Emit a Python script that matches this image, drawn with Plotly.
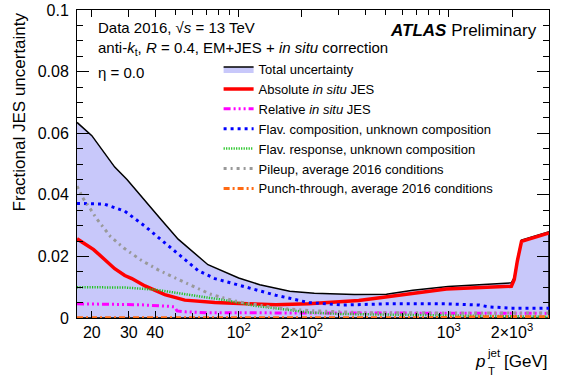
import plotly.graph_objects as go

FONT = "Liberation Sans, Arial, Helvetica, sans-serif"

# ---- data ----
pt_total = [17, 20, 25.7, 29.4, 42.1, 51.5, 71.4, 84.5, 100, 126, 160, 175, 229, 355, 505, 674, 994, 1431, 1986, 2050, 2120, 2220, 3000]
total_unc = [0.0635, 0.0592, 0.0490, 0.0450, 0.0325, 0.0256, 0.0173, 0.0152, 0.0130, 0.0108, 0.0092, 0.0087, 0.0080, 0.0076, 0.0077, 0.0090, 0.0102, 0.0108, 0.0114, 0.0132, 0.0190, 0.0253, 0.0280]

pt_abs = [17, 20.4, 23, 25.7, 28.7, 31, 35.8, 44.5, 55.4, 77, 101, 150, 215, 373, 500, 975, 1986, 2050, 2120, 2220, 3000]
abs_insitu = [0.0257, 0.0222, 0.0190, 0.0160, 0.0138, 0.0128, 0.0104, 0.0076, 0.0058, 0.0050, 0.0047, 0.0043, 0.0046, 0.0057, 0.0068, 0.0094, 0.0103, 0.0125, 0.0185, 0.0249, 0.0276]

pt_rel = [17, 34, 46.3, 49.5, 50.9, 56, 70, 3000]
rel_insitu = [0.0046, 0.0043, 0.0038, 0.0036, 0.0023, 0.0020, 0.0017, 0.0015]

pt_flav = [17, 22.9, 28.7, 35.8, 44.5, 55.4, 64.4, 77, 101, 150, 175, 215, 313, 505, 975, 1400, 1555, 2000, 3000]
flav_comp = [0.0372, 0.0370, 0.0347, 0.0298, 0.0244, 0.0189, 0.0153, 0.0128, 0.0105, 0.0074, 0.0064, 0.0050, 0.0042, 0.0046, 0.0046, 0.0042, 0.0036, 0.0032, 0.0032]

pt_resp = [17, 28.7, 40, 50, 58.6, 70, 84.5, 101, 121, 175, 215, 313, 600, 1000, 3000]
flav_resp = [0.0100, 0.0099, 0.0092, 0.0083, 0.0075, 0.0067, 0.0059, 0.0049, 0.0039, 0.0026, 0.0018, 0.0013, 0.0010, 0.0007, 0.0004]

pt_pu = [17, 18.2, 19.6, 21, 24.5, 28.4, 34.1, 41.2, 49.8, 59.9, 73, 88, 101, 150, 215, 400, 3000]
pileup = [0.0428, 0.0388, 0.0356, 0.0324, 0.0265, 0.0227, 0.0189, 0.0157, 0.0130, 0.0106, 0.0078, 0.0062, 0.0052, 0.0033, 0.0024, 0.0017, 0.0016]

pt_pt = [17, 800, 1500, 3000]
punch = [0.0001, 0.0001, 0.0004, 0.0004]

x_tickvals = [20, 30, 40, 100, 200, 1000, 2000]
x_ticktext = ["20", "30", "40", "10<sup>2</sup>", "2×10<sup>2</sup>", "10<sup>3</sup>", "2×10<sup>3</sup>"]
x_minor = [50, 60, 70, 80, 90, 300, 400, 500, 600, 700, 800, 900, 3000]
y_tickvals = [0, 0.02, 0.04, 0.06, 0.08, 0.1]
y_ticktext = ["0", "0.02", "0.04", "0.06", "0.08", "0.1"]

# closed band for the total uncertainty (curve, then back along zero)
band_x = pt_total + pt_total[::-1]
band_y = total_unc + [0.0] * len(pt_total)

fig = go.Figure()
fig.add_trace(go.Scatter(x=band_x, y=band_y, name="Total uncertainty", mode="lines",
                         fill="toself", fillcolor="rgb(200,200,250)",
                         line=dict(color="black", width=1.5)))
fig.add_trace(go.Scatter(x=pt_abs, y=abs_insitu, name="Absolute <i>in situ</i> JES", mode="lines",
                         line=dict(color="#ff0000", width=3.5)))
fig.add_trace(go.Scatter(x=pt_rel, y=rel_insitu, name="Relative <i>in situ</i> JES", mode="lines",
                         line=dict(color="#ff00ff", width=3, dash="7px,3px,2px,3px,2px,3px,2px,3px")))
fig.add_trace(go.Scatter(x=pt_flav, y=flav_comp, name="Flav. composition, unknown composition", mode="lines",
                         line=dict(color="#0000ff", width=3, dash="3px,4px")))
fig.add_trace(go.Scatter(x=pt_resp, y=flav_resp, name="Flav. response, unknown composition", mode="lines",
                         line=dict(color="#22c422", width=2.5, dash="1.2px,1.3px")))
fig.add_trace(go.Scatter(x=pt_pu, y=pileup, name="Pileup, average 2016 conditions", mode="lines",
                         line=dict(color="#999999", width=3, dash="3px,4px,2px,4px")))
fig.add_trace(go.Scatter(x=pt_pt, y=punch, name="Punch-through, average 2016 conditions", mode="lines",
                         line=dict(color="#ff6a13", width=3, dash="6px,3px,2px,3px")))

axis_common = dict(showline=True, linecolor="black", linewidth=1, mirror="allticks",
                   ticks="inside", tickcolor="black", showgrid=False, zeroline=False,
                   automargin=False,
                   tickfont=dict(family=FONT, size=16, color="black"))

fig.update_xaxes(type="log", range=[1.2304, 3.4771], tickmode="array",
                 tickvals=x_tickvals, ticktext=x_ticktext, ticklen=7,
                 minor=dict(tickmode="array", tickvals=x_minor, ticks="inside", ticklen=5, tickcolor="black"),
                 **axis_common)
fig.update_yaxes(range=[0, 0.1], tickmode="array", tickvals=y_tickvals, ticktext=y_ticktext,
                 ticklen=12, ticklabelstandoff=4,
                 minor=dict(dtick=0.005, ticks="inside", ticklen=6, tickcolor="black"),
                 **axis_common)

ann = []
ann.append(dict(text="Data 2016, √<i>s</i> = 13 TeV", x=0.040, y=1, yshift=-17,
                xanchor="left", yanchor="middle", font=dict(size=15)))
ann.append(dict(text="anti-<i>k</i><sub>t</sub>, <i>R</i> = 0.4, EM+JES + <i>in situ</i> correction",
                x=0.040, y=1, yshift=-38, xanchor="left", yanchor="middle", font=dict(size=15)))
ann.append(dict(text="η = 0.0", x=0.040, y=1, yshift=-62, xanchor="left", yanchor="middle",
                font=dict(size=15)))
ann.append(dict(text="<b><i>ATLAS</i></b> Preliminary", x=1, y=1, xshift=-10, yshift=-20,
                xanchor="right", yanchor="middle", font=dict(size=17)))
ann.append(dict(text="Fractional JES uncertainty", textangle=-90, x=-0.121, y=1,
                xanchor="center", yanchor="top", font=dict(size=17)))
ann.append(dict(text="[GeV]", x=1, y=0, yshift=-43, xanchor="right", yanchor="middle",
                font=dict(size=17)))
ann.append(dict(text="<i>p</i>", x=1, y=0, xshift=-62, yshift=-43, xanchor="right",
                yanchor="middle", font=dict(size=17)))
ann.append(dict(text="jet", x=1, y=0, xshift=-64, yshift=-35, xanchor="left",
                yanchor="middle", font=dict(size=11.5)))
ann.append(dict(text="T", x=1, y=0, xshift=-63, yshift=-53, xanchor="left",
                yanchor="middle", font=dict(size=11.5)))
for a in ann:
    a.update(xref="paper", yref="paper", showarrow=False)
    a["font"].update(family=FONT, color="black")

fig.update_layout(
    width=564, height=379,
    margin=dict(l=77, r=15, t=10, b=61, autoexpand=False),
    paper_bgcolor="white", plot_bgcolor="white",
    font=dict(family=FONT, color="black"),
    annotations=ann,
    showlegend=True,
    legend=dict(x=0.30, y=0.857, xanchor="left", yanchor="top", bgcolor="rgba(0,0,0,0)",
                font=dict(family=FONT, size=13, color="black"), tracegroupgap=0,
                itemwidth=30),
)

fig.write_html("out.html", config={"displayModeBar": False},
               post_script="document.body.style.margin='0px';")
